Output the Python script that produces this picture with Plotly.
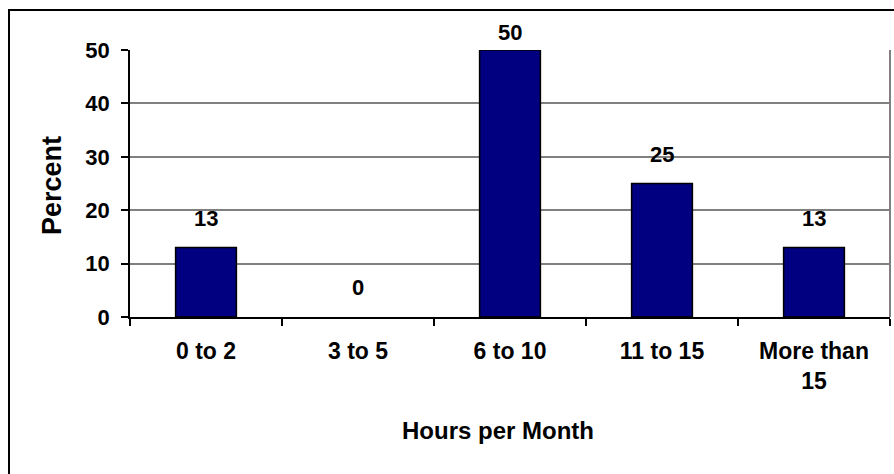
import plotly.graph_objects as go

categories = ["0 to 2", "3 to 5", "6 to 10", "11 to 15", "More than<br>15"]
percent = [13, 0, 50, 25, 13]
y_ticks = [0, 10, 20, 30, 40, 50]
x_title = "Hours per Month"
y_title = "Percent"

W, H = 894, 474
L, R, T, B = 130, 4, 50, 157
pw, ph = W - L - R, H - T - B
YMAX = 50

def px_x(p):
    return (p - L) / pw

def px_y(p):
    return (H - B - p) / ph

FONT = "Liberation Sans, Arial, sans-serif"
LABEL_SIZE = 22
LABEL_GAP = 19
LABEL_MIN_TOP = 22  # labels are kept below this pixel row of the chart

fig = go.Figure()
fig.add_trace(go.Bar(
    x=categories, y=percent, width=0.4,
    marker=dict(color="#000080",
                line=dict(color="black", width=[1.5 if v > 0 else 0 for v in percent])),
    hoverinfo="skip",
))

annotations = []
for c, v in zip(categories, percent):
    bar_top_px = T + ph * (1 - v / YMAX)
    gap = LABEL_GAP
    label_h = LABEL_SIZE * 0.95
    if bar_top_px - gap - label_h < LABEL_MIN_TOP:
        gap = max(bar_top_px - label_h - LABEL_MIN_TOP, 0)
    annotations.append(dict(
        x=c, y=v, xref="x", yref="y", text=str(v), showarrow=False,
        yanchor="bottom", yshift=gap - 4,
        font=dict(family=FONT, size=LABEL_SIZE, color="black", weight="bold"),
    ))
annotations.append(dict(
    x=px_x(498), y=px_y(430), xref="paper", yref="paper", text=x_title,
    showarrow=False, xanchor="center", yanchor="middle",
    font=dict(family=FONT, size=24, color="black", weight="bold"),
))
annotations.append(dict(
    x=px_x(52), y=px_y(186), xref="paper", yref="paper", text=y_title,
    showarrow=False, xanchor="center", yanchor="middle", textangle=-90,
    font=dict(family=FONT, size=27, color="black", weight="bold"),
))

shapes = [
    dict(type="rect", xref="paper", yref="paper",
         x0=px_x(9), x1=px_x(910), y0=px_y(10), y1=px_y(490),
         line=dict(color="black", width=2), fillcolor="rgba(0,0,0,0)", layer="below"),
    dict(type="line", xref="paper", yref="paper", x0=1, x1=1, y0=0, y1=1,
         line=dict(color="#808080", width=2)),
]

fig.update_layout(
    width=W, height=H,
    margin=dict(l=L, r=R, t=T, b=B, autoexpand=False),
    paper_bgcolor="white", plot_bgcolor="white",
    showlegend=False,
    annotations=annotations, shapes=shapes,
    font=dict(family=FONT, color="black"),
)
fig.update_xaxes(
    type="category", tickson="boundaries", ticks="outside", ticklen=7,
    tickcolor="black", tickwidth=1.5, showline=True, linecolor="black", linewidth=2,
    showgrid=False, ticklabelstandoff=12,
    tickfont=dict(family=FONT, size=23, color="black", weight="bold"),
)
fig.update_yaxes(
    range=[0, YMAX], tickvals=y_ticks, ticks="outside", ticklen=7,
    tickcolor="black", tickwidth=1.5, showline=True, linecolor="black", linewidth=1.5,
    showgrid=True, gridcolor="#808080", gridwidth=1.5, zeroline=False,
    ticklabelstandoff=7,
    tickfont=dict(family=FONT, size=22, color="black", weight="bold"),
)

fig.write_html("out.html")
